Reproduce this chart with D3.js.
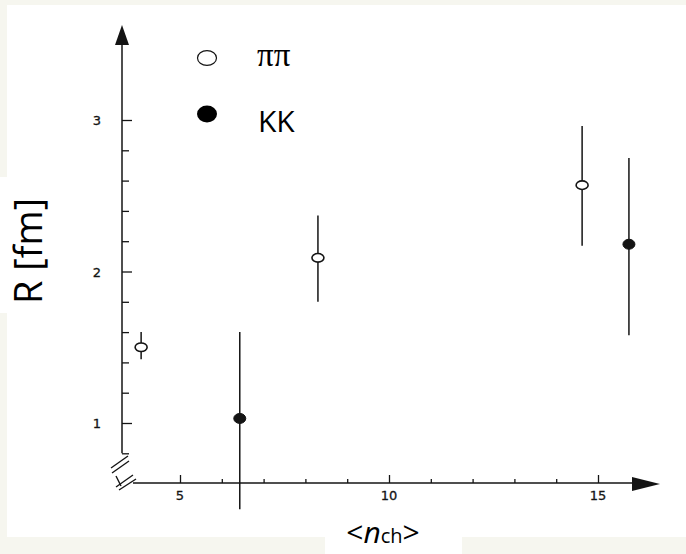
<!DOCTYPE html>
<html>
<head>
<meta charset="utf-8">
<script src="https://cdn.jsdelivr.net/npm/d3@7"></script>
<style>
  html, body { margin: 0; padding: 0; background: #f6f6ef; }
  svg { display: block; }
</style>
</head>
<body>
<svg id="chart" width="686" height="554"></svg>
<script>
// Mean charged multiplicity and source radius, pion pairs
const pipiN = [4.07, 8.3, 14.62];
const pipiR = [1.50, 2.09, 2.57];
const pipiLo = [1.42, 1.80, 2.17];
const pipiHi = [1.60, 2.37, 2.96];

// Kaon pairs
const kkN = [6.43, 15.74];
const kkR = [1.03, 2.18];
const kkLo = [0.43, 1.58];
const kkHi = [1.60, 2.75];

const xMajor = [5, 10, 15];
const xMinor = [6, 7, 8, 9, 11, 12, 13, 14];
const yMajor = [1, 2, 3];
const yMinor = [0.8, 1.2, 1.4, 1.6, 1.8, 2.2, 2.4, 2.6, 2.8];

const legendLabels = ["ππ", "KK"];

const svg = d3.select("#chart");
const ink = "#141414";

// paper panels
svg.append("rect").attr("x", 7).attr("y", 5).attr("width", 679).attr("height", 532).attr("fill", "#fff");
svg.append("rect").attr("x", 0).attr("y", 177).attr("width", 10).attr("height", 136).attr("fill", "#fff");
svg.append("rect").attr("x", 325).attr("y", 530).attr("width", 137).attr("height", 24).attr("fill", "#fff");

const x = d3.scaleLinear().domain([5, 15]).range([180, 598]);
const y = d3.scaleLinear().domain([1, 3]).range([423, 120]);

const axisX0 = 122;   // pixel column of the R axis
const axisY0 = 483;   // pixel row of the n axis

const g = svg.append("g");

// vertical axis line with arrow
g.append("line").attr("x1", axisX0).attr("x2", axisX0)
  .attr("y1", y(0.8)).attr("y2", 40)
  .attr("stroke", ink).attr("stroke-width", 1.5);
g.append("path")
  .attr("d", `M${axisX0},25 L${axisX0 - 7},45 L${axisX0 + 7},45 Z`)
  .attr("fill", ink);

// horizontal axis line with arrow
g.append("line").attr("x1", 133).attr("x2", 636)
  .attr("y1", axisY0).attr("y2", axisY0)
  .attr("stroke", ink).attr("stroke-width", 1.5);
g.append("path")
  .attr("d", `M660,${axisY0 + 1} L632,${axisY0 - 6} L632,${axisY0 + 8} Z`)
  .attr("fill", ink);

// break marks
const brk = (x1, y1, x2, y2) => g.append("line")
  .attr("x1", x1).attr("y1", y1).attr("x2", x2).attr("y2", y2)
  .attr("stroke", ink).attr("stroke-width", 1.4);
brk(111, 468, 128, 456);
brk(112, 473, 129, 461);
brk(116, 487, 133, 475);
brk(119, 490, 136, 479);
brk(116, 476, 121, 486);

// y ticks (pointing into the plot)
const yAxisMajor = d3.axisRight(y).tickValues(yMajor).tickSize(10).tickFormat("");
const yAxisMinor = d3.axisRight(y).tickValues(yMinor).tickSize(7).tickFormat("");
[yAxisMajor, yAxisMinor].forEach(ax => {
  const a = g.append("g").attr("transform", `translate(${axisX0},0)`).call(ax);
  a.select(".domain").remove();
  a.selectAll(".tick line").attr("stroke", ink).attr("stroke-width", 1.3);
});
g.selectAll(null).data(yMajor).join("text")
  .attr("x", 101).attr("y", d => y(d) + 5)
  .attr("text-anchor", "end")
  .attr("font-family", "DejaVu Sans, sans-serif")
  .attr("font-size", 13).attr("fill", ink)
  .attr("stroke", ink).attr("stroke-width", 0.3)
  .text(d => d);

// x ticks (pointing up)
const xAxisMajor = d3.axisTop(x).tickValues(xMajor).tickSize(8).tickFormat("");
const xAxisMinor = d3.axisTop(x).tickValues(xMinor).tickSize(4).tickFormat("");
[xAxisMajor, xAxisMinor].forEach(ax => {
  const a = g.append("g").attr("transform", `translate(0,${axisY0})`).call(ax);
  a.select(".domain").remove();
  a.selectAll(".tick line").attr("stroke", ink).attr("stroke-width", 1.3);
});
g.selectAll(null).data(xMajor).join("text")
  .attr("x", d => x(d)).attr("y", 500)
  .attr("text-anchor", "middle")
  .attr("font-family", "DejaVu Sans, sans-serif")
  .attr("font-size", 13).attr("fill", ink)
  .attr("stroke", ink).attr("stroke-width", 0.3)
  .text(d => d);

// error bars and markers
function series(ns, rs, lo, hi, filled) {
  const pts = ns.map((n, i) => ({ n, r: rs[i], lo: lo[i], hi: hi[i] }));
  g.selectAll(null).data(pts).join("line")
    .attr("x1", d => x(d.n)).attr("x2", d => x(d.n))
    .attr("y1", d => y(d.lo)).attr("y2", d => y(d.hi))
    .attr("stroke", ink).attr("stroke-width", 1.5);
  g.selectAll(null).data(pts).join("ellipse")
    .attr("cx", d => x(d.n)).attr("cy", d => y(d.r))
    .attr("rx", 6).attr("ry", filled ? 5 : 4.3)
    .attr("fill", filled ? ink : "#fff")
    .attr("stroke", ink).attr("stroke-width", filled ? 1 : 1.6);
}
series(pipiN, pipiR, pipiLo, pipiHi, false);
series(kkN, kkR, kkLo, kkHi, true);

// legend
svg.append("ellipse").attr("cx", 207).attr("cy", 58).attr("rx", 9.5).attr("ry", 7.3)
  .attr("fill", "#fff").attr("stroke", ink).attr("stroke-width", 1.2);
svg.append("ellipse").attr("cx", 207).attr("cy", 114).attr("rx", 10).attr("ry", 8.5)
  .attr("fill", "#000");
svg.append("text").attr("x", 257).attr("y", 66)
  .attr("font-family", "Liberation Serif, Times New Roman, serif")
  .attr("font-size", 33).attr("fill", "#000").text(legendLabels[0]);
svg.append("text").attr("x", 258).attr("y", 132)
  .attr("font-family", "Open Sans, sans-serif")
  .attr("font-size", 30).attr("fill", "#000").text(legendLabels[1]);

// axis titles
svg.append("text")
  .attr("transform", "translate(42,251) rotate(-90)")
  .attr("text-anchor", "middle")
  .attr("font-family", "Open Sans, sans-serif")
  .attr("font-size", 38).attr("fill", "#000")
  .text("R [fm]");

const xt = svg.append("text").attr("x", 383).attr("y", 543)
  .attr("text-anchor", "middle")
  .attr("font-family", "Open Sans, sans-serif")
  .attr("font-size", 30).attr("fill", "#000");
xt.append("tspan").text("<");
xt.append("tspan").attr("font-style", "italic").text("n");
xt.append("tspan").attr("font-size", 20).text("ch");
xt.append("tspan").text(">");
</script>
</body>
</html>
